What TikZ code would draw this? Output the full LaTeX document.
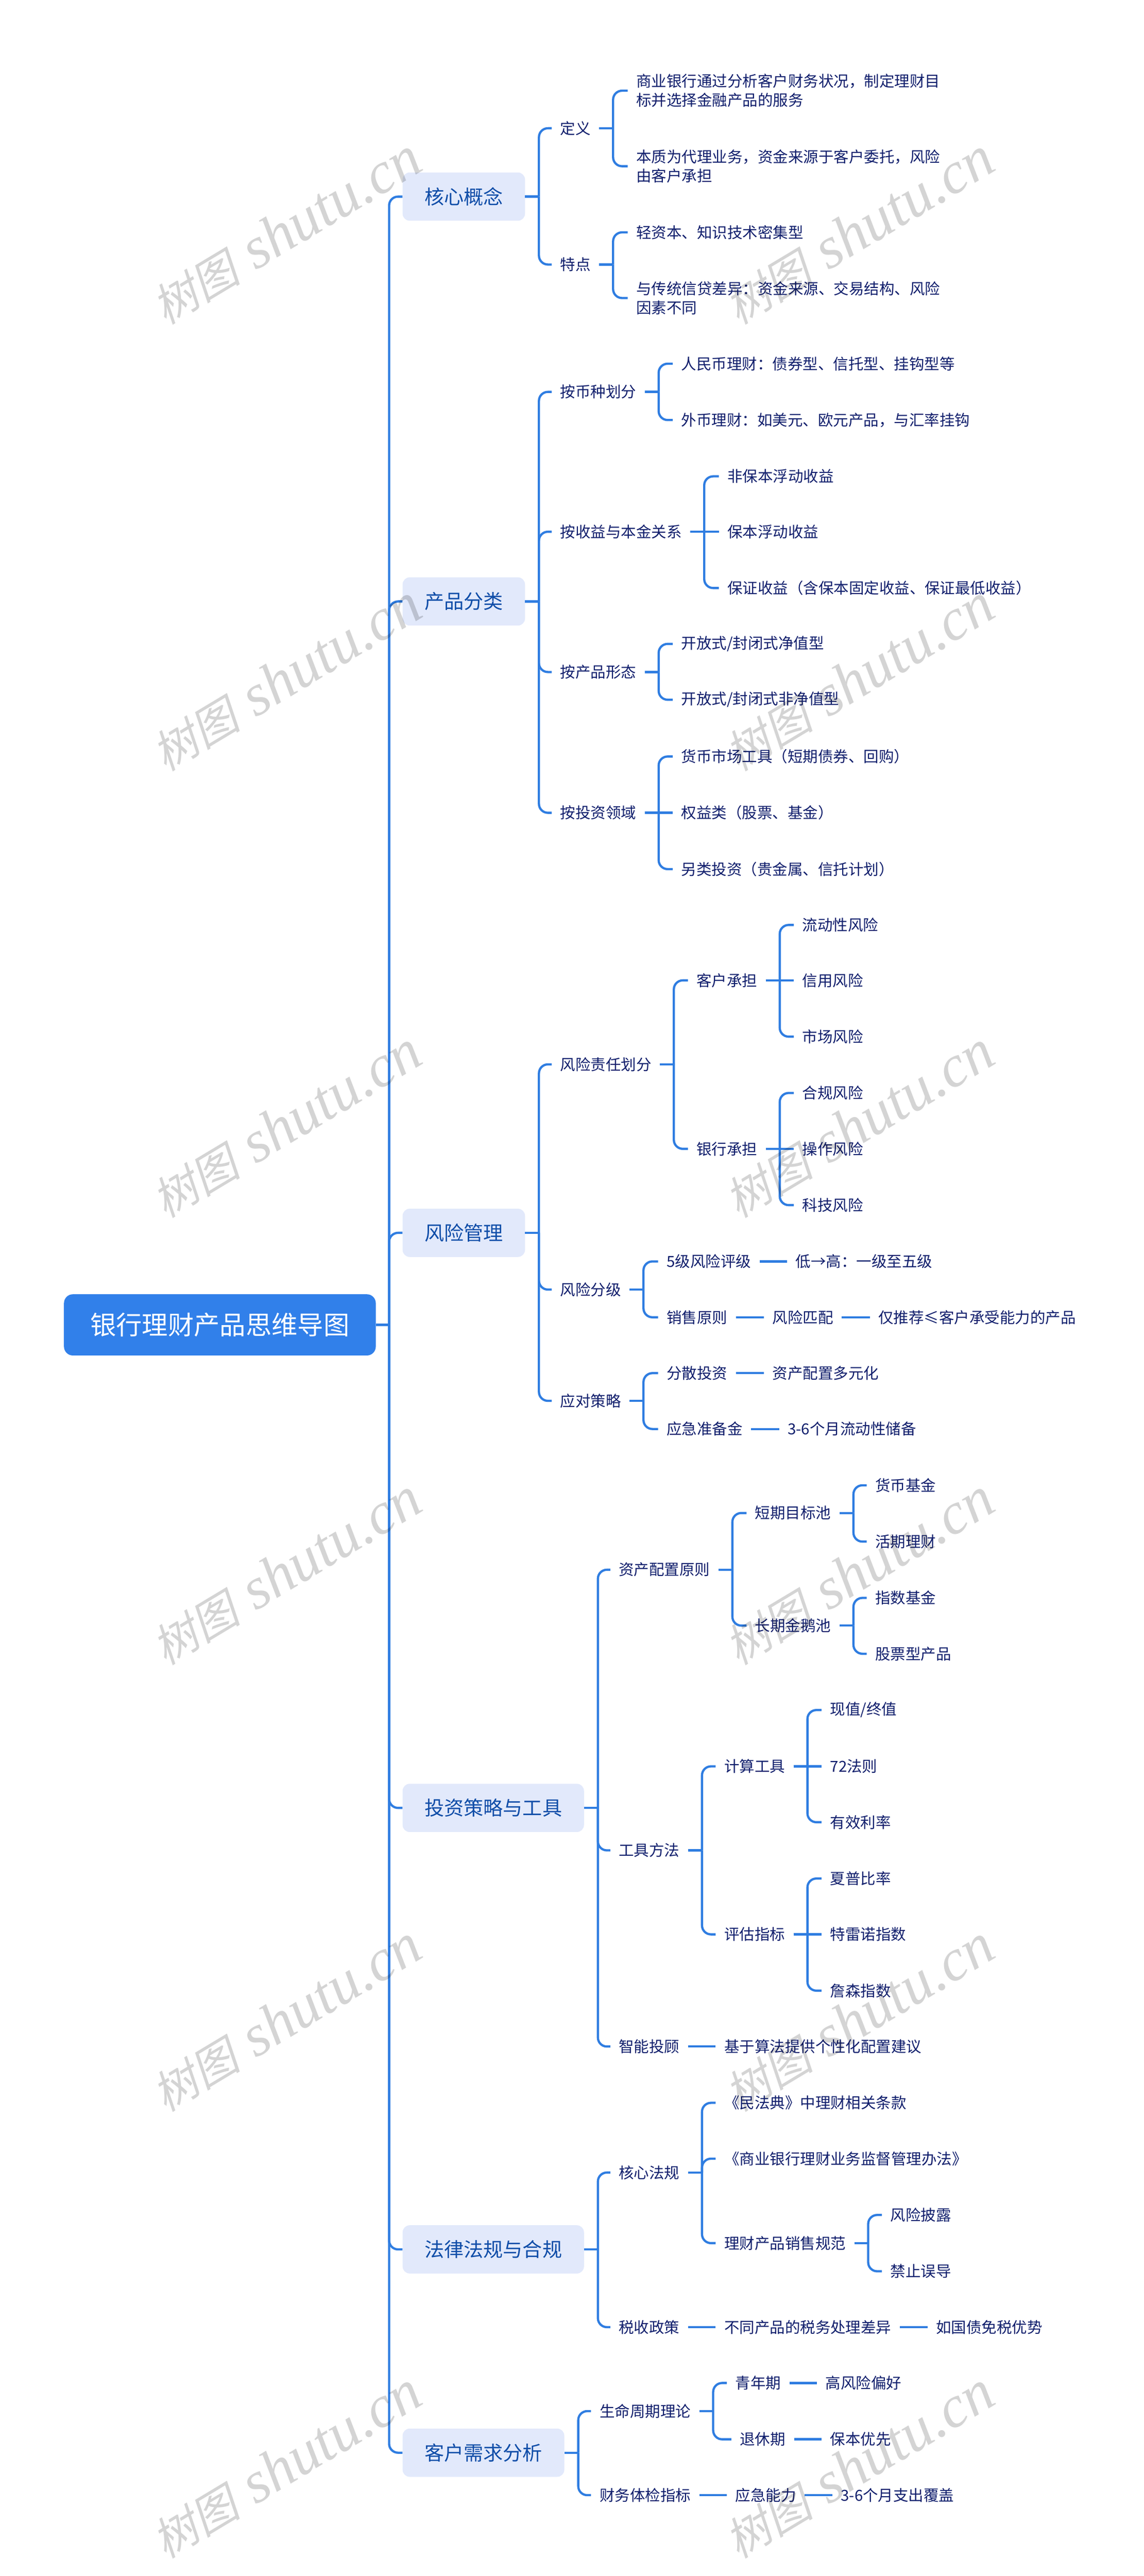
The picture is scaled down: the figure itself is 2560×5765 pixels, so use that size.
\documentclass[tikz,border=0pt]{standalone}
\usepackage{fontspec}
\setmainfont{Noto Sans CJK SC}
\newfontfamily\wmcjk[FakeSlant=0.22]{Noto Sans CJK SC}
\newfontfamily\wmlat{Liberation Serif}[ItalicFont={Liberation Serif Italic}]
\definecolor{linec}{HTML}{2F7DE1}
\definecolor{rootc}{HTML}{3180EA}
\definecolor{topicf}{HTML}{E2E9FB}
\definecolor{topict}{HTML}{0F4DA8}
\definecolor{leaft}{HTML}{101E6C}
\tikzset{
 x=1pt,y=-1pt,
 conn/.style={draw=linec,line width=5pt},
 rootbox/.style={fill=rootc,text=white,rounded corners=20pt,minimum width=698pt,minimum height=137pt,inner sep=0pt,font=\fontsize{58}{70}\selectfont},
 topicbox/.style={fill=topicf,text=topict,rounded corners=16pt,minimum height=108pt,inner xsep=49pt,inner ysep=0pt,font=\fontsize{44}{54}\selectfont},
 leaf/.style={text=leaft,inner xsep=19pt,inner ysep=0pt,align=left,font=\fontsize{34}{43}\selectfont},
 mark text/.style={text=black,opacity=0.17,text opacity=0.17,rotate=31,inner sep=0pt},
}
\newcommand{\tn}[4]{\node[leaf,anchor=west] (#1) at ({#2-19},#3) {#4};}
\newcommand{\tp}[4]{\node[topicbox,anchor=west] (#1) at (#2,#3) {#4};}
\newcommand{\brk}[3][31]{\draw[conn] (#2.east) -- ++(#1,0) coordinate (tmpt); \draw[conn,rounded corners=20pt] (tmpt) |- (#3.west);}
\newcommand{\lnk}[2]{\draw[conn] (#1.east) -- (#2.west);}
\newcommand{\wm}[3]{\node[mark text] (#1) at (#2,#3) {{\wmcjk\fontsize{100}{130}\selectfont 树图}\hspace{36pt}{\wmlat\itshape\fontsize{132}{130}\selectfont shutu.cn}};}
\begin{document}
\begin{tikzpicture}
\useasboundingbox (0,0) rectangle (2560,5765);
\fill[white] (0,0) rectangle (2560,5765);
% root and topics
\node[rootbox,anchor=west] (root) at (143,2965) {银行理财产品思维导图};
\tp{t1}{901}{440}{核心概念}
\tp{t2}{901}{1346}{产品分类}
\tp{t3}{901}{2759}{风险管理}
\tp{t4}{901}{4046}{投资策略与工具}
\tp{t5}{901}{5034}{法律法规与合规}
\tp{t6}{901}{5489}{客户需求分析}
\coordinate (trunk) at (871,2965);
\draw[conn] (root.east) -- (trunk);
\foreach \t in {t1,t2,t3,t4,t5,t6}{\draw[conn,rounded corners=20pt] (trunk) |- (\t.west);}
% core concept
\tn{a1}{1254}{287}{定义}
\tn{a2}{1254}{592}{特点}
\tn{a11}{1424}{203}{商业银行通过分析客户财务状况，制定理财目\\标并选择金融产品的服务}
\tn{a12}{1424}{372}{本质为代理业务，资金来源于客户委托，风险\\由客户承担}
\tn{a21}{1424}{520}{轻资本、知识技术密集型}
\tn{a22}{1424}{667}{与传统信贷差异：资金来源、交易结构、风险\\因素不同}
% products
\tn{b1}{1254}{877}{按币种划分}
\tn{b2}{1254}{1190}{按收益与本金关系}
\tn{b3}{1254}{1504}{按产品形态}
\tn{b4}{1254}{1819}{按投资领域}
\tn{b11}{1525}{814}{人民币理财：债券型、信托型、挂钩型等}
\tn{b12}{1525}{940}{外币理财：如美元、欧元产品，与汇率挂钩}
\tn{b21}{1628}{1066}{非保本浮动收益}
\tn{b22}{1628}{1190}{保本浮动收益}
\tn{b23}{1628}{1316}{保证收益（含保本固定收益、保证最低收益）}
\tn{b31}{1525}{1441}{开放式/封闭式净值型}
\tn{b32}{1525}{1566}{开放式/封闭式非净值型}
\tn{b41}{1525}{1693}{货币市场工具（短期债券、回购）}
\tn{b42}{1525}{1819}{权益类（股票、基金）}
\tn{b43}{1525}{1945}{另类投资（贵金属、信托计划）}
% risk
\tn{c1}{1254}{2382}{风险责任划分}
\tn{c2}{1254}{2886}{风险分级}
\tn{c3}{1254}{3135}{应对策略}
\tn{c11}{1559}{2194}{客户承担}
\tn{c12}{1559}{2571}{银行承担}
\tn{c111}{1796}{2070}{流动性风险}
\tn{c112}{1796}{2194}{信用风险}
\tn{c113}{1796}{2320}{市场风险}
\tn{c121}{1796}{2446}{合规风险}
\tn{c122}{1796}{2571}{操作风险}
\tn{c123}{1796}{2697}{科技风险}
\tn{c21}{1492}{2823}{5级风险评级}
\tn{c211}{1781}{2823}{低→高：一级至五级}
\tn{c22}{1492}{2948}{销售原则}
\tn{c221}{1729}{2948}{风险匹配}
\tn{c222}{1966}{2948}{仅推荐≤客户承受能力的产品}
\tn{c31}{1492}{3073}{分散投资}
\tn{c311}{1729}{3073}{资产配置多元化}
\tn{c32}{1492}{3198}{应急准备金}
\tn{c321}{1763}{3198}{3-6个月流动性储备}
% strategy
\tn{d1}{1385}{3513}{资产配置原则}
\tn{d2}{1385}{4141}{工具方法}
\tn{d3}{1385}{4580}{智能投顾}
\tn{d11}{1690}{3386}{短期目标池}
\tn{d12}{1690}{3638}{长期金鹅池}
\tn{d111}{1959}{3324}{货币基金}
\tn{d112}{1959}{3450}{活期理财}
\tn{d121}{1959}{3576}{指数基金}
\tn{d122}{1959}{3701}{股票型产品}
\tn{d21}{1621}{3953}{计算工具}
\tn{d22}{1621}{4329}{评估指标}
\tn{d211}{1858}{3827}{现值/终值}
\tn{d212}{1858}{3953}{72法则}
\tn{d213}{1858}{4078}{有效利率}
\tn{d221}{1858}{4204}{夏普比率}
\tn{d222}{1858}{4329}{特雷诺指数}
\tn{d223}{1858}{4455}{詹森指数}
\tn{d31}{1621}{4580}{基于算法提供个性化配置建议}
% law
\tn{e1}{1385}{4862}{核心法规}
\tn{e2}{1385}{5208}{税收政策}
\tn{e11}{1621}{4706}{《民法典》中理财相关条款}
\tn{e12}{1621}{4831}{《商业银行理财业务监督管理办法》}
\tn{e13}{1621}{5020}{理财产品销售规范}
\tn{e131}{1993}{4957}{风险披露}
\tn{e132}{1993}{5083}{禁止误导}
\tn{e21}{1621}{5208}{不同产品的税务处理差异}
\tn{e211}{2095}{5208}{如国债免税优势}
% customer
\tn{f1}{1342}{5396}{生命周期理论}
\tn{f2}{1342}{5584}{财务体检指标}
\tn{f11}{1646}{5333}{青年期}
\tn{f111}{1848}{5333}{高风险偏好}
\tn{f12}{1656}{5459}{退休期}
\tn{f121}{1858}{5459}{保本优先}
\tn{f21}{1646}{5584}{应急能力}
\tn{f211}{1882}{5584}{3-6个月支出覆盖}
% links
\brk{t1}{a1}\brk{t1}{a2}
\brk{a1}{a11}\brk{a1}{a12}\brk{a2}{a21}\brk{a2}{a22}
\brk{t2}{b1}\brk{t2}{b2}\brk{t2}{b3}\brk{t2}{b4}
\brk{b1}{b11}\brk{b1}{b12}
\brk{b2}{b21}\lnk{b2}{b22}\brk{b2}{b23}
\brk{b3}{b31}\brk{b3}{b32}
\brk{b4}{b41}\lnk{b4}{b42}\brk{b4}{b43}
\brk{t3}{c1}\brk{t3}{c2}\brk{t3}{c3}
\brk{c1}{c11}\brk{c1}{c12}
\brk{c11}{c111}\lnk{c11}{c112}\brk{c11}{c113}
\brk{c12}{c121}\lnk{c12}{c122}\brk{c12}{c123}
\brk{c2}{c21}\brk{c2}{c22}\brk{c3}{c31}\brk{c3}{c32}
\lnk{c21}{c211}\lnk{c22}{c221}\lnk{c221}{c222}\lnk{c31}{c311}\lnk{c32}{c321}
\brk{t4}{d1}\brk{t4}{d2}\brk{t4}{d3}
\brk{d1}{d11}\brk{d1}{d12}
\brk{d11}{d111}\brk{d11}{d112}\brk{d12}{d121}\brk{d12}{d122}
\brk{d2}{d21}\brk{d2}{d22}
\brk{d21}{d211}\lnk{d21}{d212}\brk{d21}{d213}
\brk{d22}{d221}\lnk{d22}{d222}\brk{d22}{d223}
\lnk{d3}{d31}
\brk{t5}{e1}\brk{t5}{e2}
\brk{e1}{e11}\brk{e1}{e12}\brk{e1}{e13}
\brk{e13}{e131}\brk{e13}{e132}
\lnk{e2}{e21}\lnk{e21}{e211}
\brk{t6}{f1}\brk{t6}{f2}
\brk{f1}{f11}\brk{f1}{f12}
\lnk{f11}{f111}\lnk{f12}{f121}\lnk{f2}{f21}\lnk{f21}{f211}
% watermarks
\wm{w1}{640}{517}\wm{w2}{1922}{517}
\wm{w3}{640}{1517}\wm{w4}{1922}{1517}
\wm{w5}{640}{2517}\wm{w6}{1922}{2517}
\wm{w7}{640}{3517}\wm{w8}{1922}{3517}
\wm{w9}{640}{4517}\wm{w10}{1922}{4517}
\wm{w11}{640}{5517}\wm{w12}{1922}{5517}
\end{tikzpicture}
\end{document}
